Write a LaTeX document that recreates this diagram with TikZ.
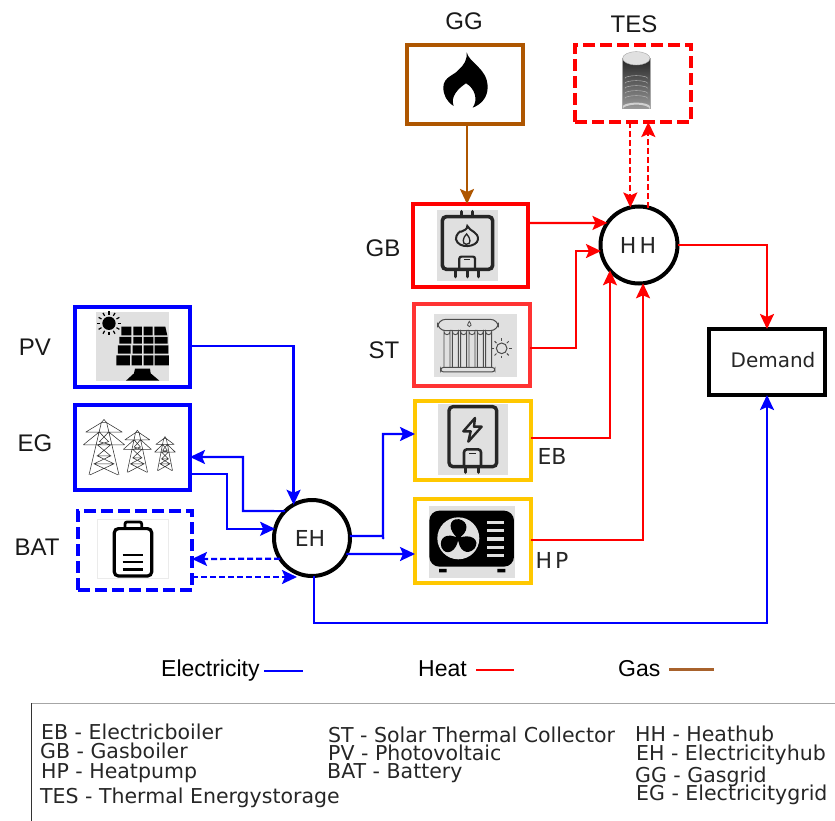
\documentclass[tikz,border=0pt]{standalone}
\usepackage{fontspec}
\setmainfont{Liberation Sans}
\newfontfamily\dv{DejaVu Sans}
\usetikzlibrary{arrows.meta,calc}
\definecolor{eblue}{HTML}{0000FF}
\definecolor{hred}{HTML}{FF0000}
\definecolor{gbrown}{HTML}{AE5600}
\definecolor{legbrown}{HTML}{A8622C}
\definecolor{stred}{HTML}{FF3333}
\definecolor{yel}{HTML}{FFC800}
\definecolor{icbg}{HTML}{E0E0E0}
\definecolor{icdk}{HTML}{262626}
\tikzset{
  unit/.style={draw,line width=4.2pt,fill=white,inner sep=0pt,outer sep=0pt,minimum width=#1},
  hub/.style={circle,draw=black,line width=4pt,fill=white,inner sep=0pt,outer sep=0pt,minimum size=#1},
  dashbox/.style={dash pattern=on 12pt off 5pt},
  flow/.style={line width=2.2pt,-{Stealth[length=15pt,width=14pt,inset=3pt]}},
  dashflow/.style={line width=2.2pt,dash pattern=on 6pt off 3pt,-{Stealth[length=15pt,width=14pt,inset=3pt]}},
  big/.style={font=\fontsize{24}{24}\selectfont,inner sep=0pt,text=black!90},
  mid/.style={font=\dv\fontsize{22}{22}\selectfont,inner sep=0pt,text=black!85},
  midb/.style={font=\dv\fontsize{20}{20}\selectfont,inner sep=0pt,text=black!85},
  leg/.style={font=\dv\fontsize{20.5}{21}\selectfont,inner sep=0pt,anchor=base west,text=black!85,text height=14pt,text depth=0pt},
  key/.style={font=\fontsize{23}{23}\selectfont,inner sep=0pt,anchor=base west},
  pylon/.pic={
    \draw[line width=.55pt,black!80]
      (-45,165)--(-8,0)--(8,0)--(45,165) (-8,0)--(0,-10)--(8,0)
      (-55,30)--(55,30) (-62,70)--(62,70) (-8,0)--(-55,30) (8,0)--(55,30)
      (-15,30)--(-62,70) (15,30)--(62,70)
      (-14,30)--(14,60)--(-20,70)--(20,105)--(-30,130)--(42,165)
      (14,30)--(-14,60)--(20,70)--(-20,105)--(30,130)--(-42,165)
      (-22,105)--(22,105) (-30,130)--(30,130);
  }
}
\begin{document}
\begin{tikzpicture}[x=1pt,y=-1pt]
\useasboundingbox (0,0) rectangle (835,821);

% units
\node[unit=115pt,minimum height=80pt,draw=eblue] (PV) at (132.5,347) {};
\node[unit=115pt,minimum height=85pt,draw=eblue] (EG) at (132.5,447.5) {};
\node[unit=114pt,minimum height=79pt,draw=eblue,dashbox] (BAT) at (135,550.5) {};
\node[unit=116pt,minimum height=79pt,draw=gbrown] (GG) at (465,84.5) {};
\node[unit=116pt,minimum height=77pt,draw=hred,dashbox] (TES) at (633,83.5) {};
\node[unit=115pt,minimum height=83pt,draw=hred] (GB) at (470.75,245.5) {};
\node[unit=116pt,minimum height=82pt,draw=stred] (ST) at (472,345) {};
\node[unit=116pt,minimum height=79pt,draw=yel] (EB) at (473,440.5) {};
\node[unit=116pt,minimum height=84pt,draw=yel] (HP) at (473,541) {};
\node[unit=116pt,minimum height=66pt,draw=black] (DM) at (767,362) {};
\node[hub=76pt] (EH) at (312,538) {};
\node[hub=77pt] (HH) at (639,245) {};

% free ends
\coordinate (batin) at (297,577);
\coordinate (busy) at (0,623);
\coordinate (ebturn) at (383,536);
\coordinate (stturn) at (576,348);

% electricity connectors
\draw[flow,eblue] ([yshift=1pt]PV.east) -| (EH.119);
\draw[flow,eblue] (EH.135) -- (243,511) |- ([yshift=-9.5pt]EG.east);
\draw[flow,eblue] ([yshift=-26.5pt]EG.east) -- (227,474) |- (EH.166);
\draw[dashflow,eblue] (EH.213.5) -- ([yshift=-8.5pt]BAT.east);
\draw[dashflow,eblue] ([yshift=-26.5pt]BAT.east) -- (batin);
\draw[flow,eblue] (EH.3) -- (ebturn) |- ([yshift=6.5pt]EB.west);
\fill[eblue] (383,538) circle (1.5pt);
\draw[flow,eblue] (EH.-25) -- ([yshift=-13pt]HP.west);
\draw[flow,eblue] (EH.-87) -- (EH.-87 |- busy) -- (DM.south |- busy) -- (DM.south);
% gas
\draw[flow,gbrown] ([xshift=2pt]GG.south) -- ([xshift=-3.75pt]GB.north);
% heat
\draw[flow,hred] ([yshift=22.5pt]GB.east) -- (HH.145);
\draw[flow,hred] ([yshift=-3pt]ST.east) -- (stturn) |- (HH.189);
\draw[flow,hred] ([yshift=2.5pt]EB.east) -| (HH.221);
\draw[flow,hred] ([yshift=1pt]HP.east) -| (HH.-84);
\draw[flow,hred] (HH.east) -| (DM.north);
\draw[dashflow,hred] (HH.103.5 |- TES.south) -- (HH.103.5);
\draw[dashflow,hred] (HH.76.5) -- (HH.76.5 |- TES.south);

% PV icon
\begin{scope}[shift={(60,290)},x=.3333pt,y=-.3333pt]
  \fill[icbg] (108,65) rectangle (328,273);
  \fill[black] (147,100) circle (20);
  \foreach \a in {0,30,...,330}
    \draw[line width=1.2pt,black] ($(147,100)+(\a:26)$) -- ($(147,100)+(\a:36)$);
  \fill[black]
    (184,110) rectangle (214,136) (220,110) rectangle (246,136) (251,110) rectangle (278,136) (283,110) -- (316,110) -- (322,136) -- (283,136) -- cycle
    (178,141) rectangle (214,161) (220,141) rectangle (246,161) (251,141) rectangle (280,161) (284,141) rectangle (323,161)
    (174,166) rectangle (212,191) (218,166) rectangle (246,191) (251,166) rectangle (280,191) (284,166) rectangle (325,191)
    (169,196) rectangle (210,226) (215,196) rectangle (246,226) (251,196) rectangle (280,226) (284,196) rectangle (327,226);
  \fill[black] (225,236) -- (270,236) -- (272,250) -- (298,272) -- (198,272) -- (222,250) -- cycle;
\end{scope}

% EG icon
\begin{scope}[shift={(60,290)},x=.3333pt,y=-.3333pt]
  \pic[xscale=1,yscale=.95] at (132,398) {pylon};
  \pic[xscale=.68,yscale=.72] at (232,428) {pylon};
  \pic[xscale=.5,yscale=.58] at (315,446) {pylon};
\end{scope}

% BAT icon
\begin{scope}[shift={(60,290)},x=.3333pt,y=-.3333pt]
  \draw[black!8,line width=.5pt] (112,688) rectangle (325,865);
  \draw[black,line width=3.2pt,rounded corners=4pt] (163,716) rectangle (275,858);
  \draw[black,line width=2.8pt,rounded corners=2pt] (195,716) -- (195,696) -- (245,696) -- (245,716);
  \draw[black,line width=2.8pt] (188,795) -- (250,795) (188,816) -- (250,816) (188,838) -- (250,838);
\end{scope}

% GG icon
\begin{scope}[shift={(390,0)},x=.3333pt,y=-.3333pt]
  \fill[black] (230,157) .. controls (238,190) and (293,205) .. (293,262)
    .. controls (293,295) and (270,315) .. (248,323)
    .. controls (265,300) and (255,265) .. (228,250)
    .. controls (205,265) and (180,290) .. (191,318)
    .. controls (170,305) and (160,285) .. (160,262)
    .. controls (160,230) and (195,225) .. (205,210)
    .. controls (222,195) and (232,180) .. (230,157) -- cycle;
\end{scope}

% TES icon
\begin{scope}[shift={(390,0)},x=.3333pt,y=-.3333pt]
  \shade[top color=black!85,bottom color=black!40] (698,175) rectangle (780,325);
  \fill[black!18] (698,320) -- (698,328) arc[x radius=41,y radius=14,start angle=180,end angle=360] -- (780,320) arc[x radius=41,y radius=12,start angle=0,end angle=-180] -- cycle;
  \fill[black!12] (739,175) ellipse (41 and 20);
  \draw[black!35,line width=.4pt] (739,175) ellipse (41 and 20);
  \draw[black!35,line width=.5pt] (698,175) -- (698,328) (780,175) -- (780,328);
  \foreach \yy in {235,250,265,280,295}
    \draw[black!25,line width=.4pt] (705,\yy) arc[x radius=34,y radius=8,start angle=180,end angle=360];
\end{scope}

% GB icon
\begin{scope}[shift={(390,0)},x=.3333pt,y=-.3333pt]
  \fill[icbg] (140,630) rectangle (323,843);
  \draw[icdk,line width=3.6pt,rounded corners=4pt] (157,650) rectangle (308,808);
  \draw[icdk,line width=3.6pt,line cap=round] (214,635) -- (214,648) (248,635) -- (248,648)
    (197,810) -- (197,830) (232,810) -- (232,830) (265,810) -- (265,830);
  \draw[icdk,line width=2.2pt,rounded corners=2pt] (208,808) -- (208,770) -- (255,770) -- (255,808);
  \draw[icdk,line width=1.5pt] (222,779) -- (240,779);
  \draw[icdk,line width=2pt] (232,678) .. controls (240,695) and (265,695) .. (264,718)
    .. controls (262,742) and (205,748) .. (198,718)
    .. controls (196,705) and (212,690) .. (214,695)
    .. controls (222,690) and (232,690) .. (232,678) -- cycle;
  \draw[icdk,line width=1.3pt] (230,702) .. controls (242,715) and (245,733) .. (229,733)
    .. controls (215,733) and (218,712) .. (230,702) -- cycle;
\end{scope}

% ST icon
\begin{scope}[shift={(400,290)},x=.3333pt,y=-.3333pt]
  \fill[icbg] (103,72) rectangle (352,262);
  \draw[black!70,line width=1pt,rounded corners=8pt] (113,88) rectangle (295,122);
  \foreach \xx in {132,157,182,207,232,257}
    \draw[black!70,line width=.9pt,fill=icbg] (\xx,232) -- (\xx,125) arc[radius=9,start angle=180,end angle=0] -- (\xx+18,232);
  \draw[black!70,line width=1pt,rounded corners=3pt,fill=icbg] (122,232) rectangle (285,246);
  \draw[black!70,line width=.8pt] (208,94) .. controls (202,103) and (200,110) .. (208,110) .. controls (216,110) and (214,103) .. (208,94) -- cycle;
  \draw[black!70,line width=1pt] (305,175) circle (16);
  \foreach \a in {0,45,...,315}
    \draw[black!70,line width=1pt] ($(305,175)+(\a:22)$) -- ($(305,175)+(\a:30)$);
\end{scope}

% EB icon
\begin{scope}[shift={(400,290)},x=.3333pt,y=-.3333pt]
  \fill[icbg] (114,342) rectangle (323,555);
  \draw[icdk,line width=3.4pt,rounded corners=4pt] (147,350) rectangle (290,530);
  \draw[icdk,line width=2.4pt,line join=round] (225,384) -- (190,424) -- (212,424) -- (205,455) -- (245,410) -- (222,410) -- cycle;
  \draw[icdk,line width=2.6pt,rounded corners=3pt] (192,530) -- (192,478) -- (243,478) -- (243,530);
  \draw[icdk,line width=1.6pt] (208,491) -- (228,491);
  \draw[icdk,line width=3.4pt,line cap=round] (197,532) -- (197,547) (236,532) -- (236,547);
\end{scope}

% HP icon
\begin{scope}[shift={(400,290)},x=.3333pt,y=-.3333pt]
  \fill[icbg] (87,648) rectangle (345,865);
  \fill[black,rounded corners=10pt] (88,662) rectangle (342,830);
  \fill[black] (117,837) rectangle (140,847) (292,837) rectangle (316,847);
  \fill[icbg] (175,745) circle (63);
  \fill[black] (175,745) circle (10);
  \foreach \a in {35,155,275}
    \fill[black,rotate around={\a:(175,745)}] (175,745) .. controls (160,712) and (128,708) .. (118,738) .. controls (112,770) and (150,775) .. (175,745) -- cycle;
  \foreach \yy in {697,722,747,772,797}
    \fill[icbg] (262,\yy-5) rectangle (312,\yy+5);
\end{scope}

% node labels
\node[big] (lPV) at (35,347) {PV};
\node[big] (lEG) at (35,443) {EG};
\node[big] (lBAT) at (37,547) {BAT};
\node[big] (lGG) at (464,21) {GG};
\node[big] (lTES) at (634,24) {TES};
\node[big] (lGB) at (383,248) {GB};
\node[big] (lST) at (384,350) {ST};
\node[mid] (lEB) at (552,456) {EB};
\node[mid] (lHP) at (552,560) {H\hspace{3pt}P};
\node[mid] (lEH) at (310,538) {EH};
\node[mid] (lHH) at (638,245) {H\hspace{3pt}H};
\node[midb] (lDM) at (773,360) {Demand};

% key
\node[key] (kE) at (161,676) {Electricity};
\draw[line width=2.5pt,eblue] (264,671) -- (303,671);
\node[key] (kH) at (418,676) {Heat};
\draw[line width=2.5pt,hred] (476,670) -- (514,670);
\node[key] (kG) at (618,676) {Gas};
\draw[line width=3pt,legbrown] (669,669) -- (714,669);

% glossary frame
\draw[black!35,line width=1pt] (31,703.5) -- (835,703.5);
\draw[black!80,line width=1pt] (31.5,703) -- (31.5,821);

% glossary
\node[leg] (g1) at (41,739) {EB - Electricboiler};
\node[leg] (g2) at (40,758) {GB - Gasboiler};
\node[leg] (g3) at (41,778) {HP - Heatpump};
\node[leg] (g4) at (40,803) {TES - Thermal Energystorage};
\node[leg] (g5) at (328,742) {ST - Solar Thermal Collector};
\node[leg] (g6) at (328,760) {PV - Photovoltaic};
\node[leg] (g7) at (327,778) {BAT - Battery};
\node[leg] (g8) at (635,741) {HH - Heathub};
\node[leg] (g9) at (636,760) {EH - Electricityhub};
\node[leg] (g10) at (635,782) {GG - Gasgrid};
\node[leg] (g11) at (636,800) {EG - Electricitygrid};
\end{tikzpicture}
\end{document}
